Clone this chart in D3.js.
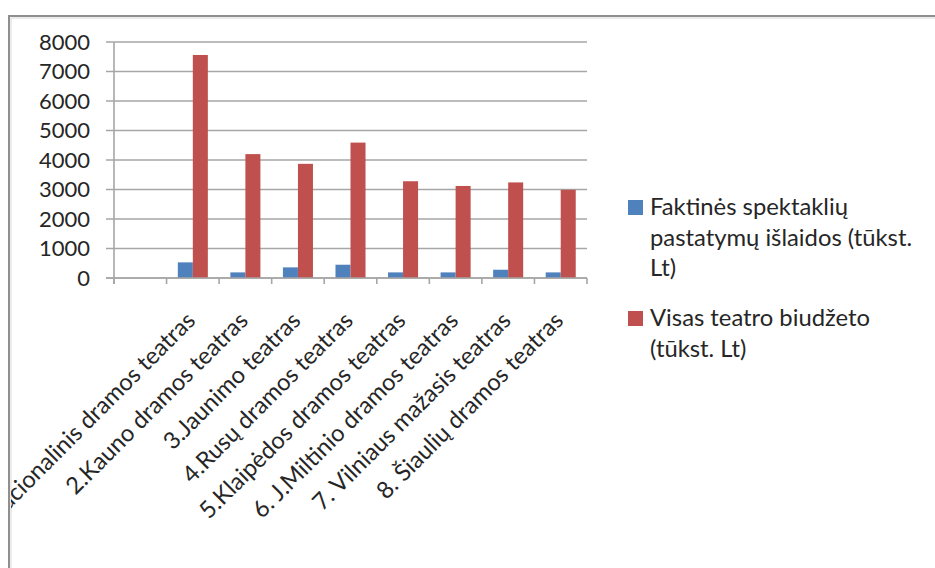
<!DOCTYPE html>
<html><head><meta charset="utf-8">
<script src="https://cdn.jsdelivr.net/npm/d3@7"></script>
<style>body{margin:0;background:#fff;} svg{display:block}</style>
</head><body><svg id="c" width="935" height="568"></svg>
<script>
const categories = ["", "1.Nacionalinis dramos teatras", "2.Kauno dramos teatras", "3.Jaunimo teatras", "4.Rusų dramos teatras", "5.Klaipėdos dramos teatras", "6. J.Miltinio dramos teatras", "7. Vilniaus mažasis teatras", "8. Šiaulių dramos teatras"];
const seriesNames = ["Faktinės spektaklių pastatymų išlaidos (tūkst. Lt)", "Visas teatro biudžeto (tūkst. Lt)"];
const legendLines = [["Faktinės spektaklių", "pastatymų išlaidos (tūkst.", "Lt)"], ["Visas teatro biudžeto", "(tūkst. Lt)"]];
const costs = [null, 530, 190, 360, 450, 190, 190, 280, 190];
const budget = [null, 7560, 4200, 3870, 4590, 3280, 3120, 3240, 2990];
const yTicks = [0, 1000, 2000, 3000, 4000, 5000, 6000, 7000, 8000];
const colors = ["#4F81BD", "#C0504D"];

const svg = d3.select("#c");
const FONT = "Lato, 'Open Sans', sans-serif";
const textColor = "#262626";

function fitSize(text, target) {
  const t = svg.append("text").attr("font-family", FONT).attr("font-size", 100).text(text);
  const w = t.node().getComputedTextLength();
  t.remove();
  return 100 * target / w;
}

const x = d3.scaleBand().domain(categories.map((d, i) => i)).range([114, 587]).padding(0);
const inner = d3.scaleBand().domain([0, 1]).range([0, x.bandwidth()]).paddingInner(0).paddingOuter(0.75);
const y = d3.scaleLinear().domain([0, 8000]).range([278, 42]);

// frame
svg.append("path").attr("d", "M9,568 V16 H935").attr("fill", "none").attr("stroke", "#8f8f8f").attr("stroke-width", 2);
svg.append("path").attr("d", "M11,568 V18 H935").attr("fill", "none").attr("stroke", "#d9d9d9").attr("stroke-width", 1);

// gridlines
svg.append("g").selectAll("line").data(yTicks).join("line")
  .attr("x1", 106).attr("x2", 587)
  .attr("y1", d => y(d)).attr("y2", d => y(d))
  .attr("stroke", "#a6a6a6").attr("stroke-width", 1.6);

// y axis line
svg.append("line").attr("x1", 114).attr("x2", 114).attr("y1", y(8000)).attr("y2", y(0) + 6)
  .attr("stroke", "#a6a6a6").attr("stroke-width", 1.6);

// x ticks at category boundaries
const bounds = categories.map((d, i) => x(i)).concat([x(categories.length - 1) + x.bandwidth()]);
svg.append("g").selectAll("line").data(bounds).join("line")
  .attr("x1", d => d).attr("x2", d => d).attr("y1", y(0)).attr("y2", y(0) + 6)
  .attr("stroke", "#a6a6a6").attr("stroke-width", 1.6);

// y labels
svg.append("g").selectAll("text").data(yTicks).join("text")
  .attr("x", 90).attr("y", d => y(d)).attr("dy", "0.36em")
  .attr("text-anchor", "end").attr("font-family", FONT).attr("font-size", 22).attr("fill", textColor)
  .text(d => d);

// bars
const series = [costs, budget];
series.forEach((vals, s) => {
  svg.append("g").selectAll("rect").data(vals.map((v, i) => ({ v, i })).filter(d => d.v != null)).join("rect")
    .attr("x", d => x(d.i) + inner(s)).attr("width", inner.bandwidth())
    .attr("y", d => y(d.v)).attr("height", d => y(0) - y(d.v))
    .attr("fill", colors[s]);
});
// re-draw axis baseline on top
svg.append("line").attr("x1", 106).attr("x2", 587).attr("y1", y(0)).attr("y2", y(0))
  .attr("stroke", "#a6a6a6").attr("stroke-width", 1.6);

// category labels
svg.append("clipPath").attr("id", "clip").append("rect").attr("x", 11).attr("y", 0).attr("width", 924).attr("height", 568);
const labelSize = fitSize("2.Kauno dramos teatras", 246);
svg.append("g").attr("clip-path", "url(#clip)").selectAll("text").data(categories).join("text")
  .attr("transform", (d, i) => `translate(${x(i) + x.bandwidth() / 2 + 4},322) rotate(-45)`)
  .attr("text-anchor", "end").attr("font-family", FONT).attr("font-size", labelSize).attr("fill", textColor)
  .text(d => d);

// legend
const legSize = fitSize("Visas teatro biudžeto", 220);
const legTop = [215, 326];
legendLines.forEach((lines, s) => {
  const g = svg.append("g");
  g.append("rect").attr("x", 628).attr("y", legTop[s] - 15).attr("width", 15).attr("height", 15).attr("fill", colors[s]);
  g.selectAll("text").data(lines).join("text")
    .attr("x", 650).attr("y", (d, k) => legTop[s] + k * 30.5)
    .attr("font-family", FONT).attr("font-size", legSize).attr("fill", textColor)
    .text(d => d);
});
</script></body></html>
